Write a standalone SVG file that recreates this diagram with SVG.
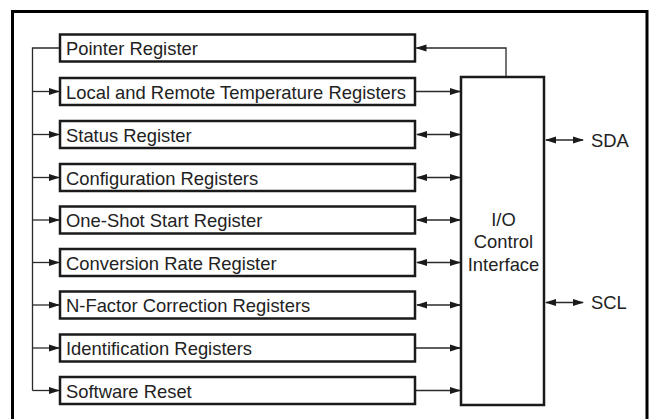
<svg xmlns="http://www.w3.org/2000/svg" width="650" height="419" viewBox="0 0 650 419">
<defs>
<marker id="ah" markerWidth="11" markerHeight="8" refX="10" refY="4" orient="auto-start-reverse" markerUnits="userSpaceOnUse">
<path d="M0,0.5 L11,4 L0,7.5 Z" fill="#1a1a1a"/>
</marker>
<style>
.box{fill:#fff;stroke:#1a1a1a;stroke-width:2.5}
.t{font-family:"Liberation Sans",Arial,sans-serif;font-size:18.4px;fill:#222}
.c{fill:none;stroke:#2a2a2a;stroke-width:1.3}
</style>
</defs>
<rect width="650" height="419" fill="#fff"/>
<rect x="12.5" y="11.5" width="634.5" height="420" fill="none" stroke="#000" stroke-width="3"/>
<g id="connectors">
<path class="c" d="M60,48 H32.5 V390.5"/>
<path class="c" d="M32.5,91.5 H59" marker-end="url(#ah)"/>
<path class="c" d="M32.5,134.5 H59" marker-end="url(#ah)"/>
<path class="c" d="M32.5,177.5 H59" marker-end="url(#ah)"/>
<path class="c" d="M32.5,220 H59" marker-end="url(#ah)"/>
<path class="c" d="M32.5,262.5 H59" marker-end="url(#ah)"/>
<path class="c" d="M32.5,305 H59" marker-end="url(#ah)"/>
<path class="c" d="M32.5,348 H59" marker-end="url(#ah)"/>
<path class="c" d="M32.5,390.5 H59" marker-end="url(#ah)"/>
<path class="c" d="M506,77 V48 H416.5" marker-end="url(#ah)"/>
<path class="c" d="M416,91.5 H460" marker-end="url(#ah)"/>
<path class="c" d="M417,134.5 H460" marker-start="url(#ah)" marker-end="url(#ah)"/>
<path class="c" d="M417,177.5 H460" marker-start="url(#ah)" marker-end="url(#ah)"/>
<path class="c" d="M417,220 H460" marker-start="url(#ah)" marker-end="url(#ah)"/>
<path class="c" d="M417,262.5 H460" marker-start="url(#ah)" marker-end="url(#ah)"/>
<path class="c" d="M417,305 H460" marker-start="url(#ah)" marker-end="url(#ah)"/>
<path class="c" d="M416,348 H460" marker-end="url(#ah)"/>
<path class="c" d="M416,390.5 H460" marker-end="url(#ah)"/>
<path class="c" d="M546,140 H583" marker-start="url(#ah)" marker-end="url(#ah)"/>
<path class="c" d="M546,302.5 H583" marker-start="url(#ah)" marker-end="url(#ah)"/>
</g>
<g id="pointer"><rect class="box" x="60" y="34.5" width="355" height="27"/><text class="t" x="66" y="55">Pointer Register</text></g>
<g id="local"><rect class="box" x="60" y="78" width="355" height="27"/><text class="t" x="66" y="98.5">Local and Remote Temperature Registers</text></g>
<g id="status"><rect class="box" x="60" y="121" width="355" height="27"/><text class="t" x="66" y="141.5">Status Register</text></g>
<g id="config"><rect class="box" x="60" y="164" width="355" height="27"/><text class="t" x="66" y="184.5">Configuration Registers</text></g>
<g id="oneshot"><rect class="box" x="60" y="206.5" width="355" height="27"/><text class="t" x="66" y="227">One-Shot Start Register</text></g>
<g id="conversion"><rect class="box" x="60" y="249" width="355" height="27"/><text class="t" x="66" y="269.5">Conversion Rate Register</text></g>
<g id="nfactor"><rect class="box" x="60" y="291.5" width="355" height="27"/><text class="t" x="66" y="312">N-Factor Correction Registers</text></g>
<g id="ident"><rect class="box" x="60" y="334.5" width="355" height="27"/><text class="t" x="66" y="355">Identification Registers</text></g>
<g id="reset"><rect class="box" x="60" y="377" width="355" height="27"/><text class="t" x="66" y="397.5">Software Reset</text></g>
<g id="io"><rect class="box" x="461" y="77" width="83" height="328"/>
<text class="t" x="503.5" y="226" text-anchor="middle">I/O</text>
<text class="t" x="503.5" y="248" text-anchor="middle">Control</text>
<text class="t" x="503.5" y="270.5" text-anchor="middle">Interface</text></g>
<g id="sda"><text class="t" x="591" y="146.5">SDA</text></g>
<g id="scl"><text class="t" x="591" y="309">SCL</text></g>
</svg>
